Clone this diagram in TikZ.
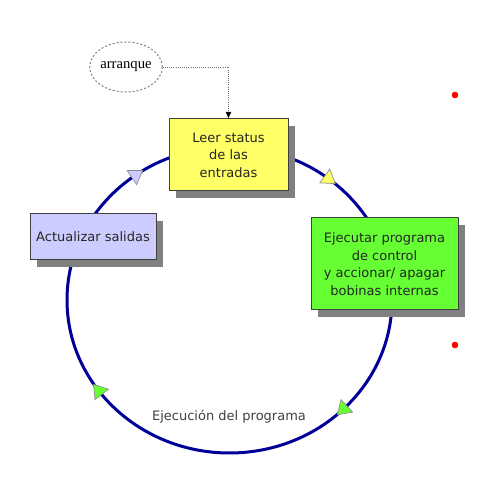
\documentclass[tikz,border=0pt]{standalone}
\usepackage{fontspec}
\setmainfont{DejaVu Sans}
\newfontfamily\startfont{Liberation Serif}
\usetikzlibrary{shapes.geometric, shadows, arrows.meta}
\definecolor{cyclecol}{HTML}{000099}
\definecolor{leercol}{HTML}{FFFF66}
\definecolor{ejecol}{HTML}{66FF33}
\definecolor{actcol}{HTML}{CCCCFF}
\tikzset{stepbox/.style={draw=black!75, line width=0.75pt, inner sep=0pt, align=center,
        font=\fontsize{9.75}{13.1}\selectfont, text=black!85,
        drop shadow={shadow xshift=5.25pt, shadow yshift=-5.25pt, fill=black!50, opacity=1}},
    flowtip/.style={draw=black!45, line width=0.5pt}}

\begin{document}
\begin{tikzpicture}[x=0.75pt, y=0.75pt]
                \useasboundingbox (0,0) rectangle (500,485);

                \coordinate (mid) at (229.5,185);
                \draw[cyclecol, line width=2.25pt] (mid) ellipse (162.5 and 153);

                \path (mid) ++(125.1:162.5 and 153) coordinate (tipact);
                \path (mid) ++(52.3:162.5 and 153) coordinate (tipleer);
                \path (mid) ++(-45.6:162.5 and 153) coordinate (tipeje);
                \path (mid) ++(-143.7:162.5 and 153) coordinate (tipprog);

                \filldraw[flowtip, fill=actcol, shift={(tipact)}, rotate=33.5] (8,0) -- (-5,8.5) -- (-5,-8.5) -- cycle;
                \filldraw[flowtip, fill=leercol, shift={(tipleer)}, rotate=-36.1] (8,0) -- (-5,8.5) -- (-5,-8.5) -- cycle;
                \filldraw[flowtip, fill=ejecol, shift={(tipeje)}, rotate=222.7] (8,0) -- (-5,8.5) -- (-5,-8.5) -- cycle;
                \filldraw[flowtip, fill=ejecol, shift={(tipprog)}, rotate=128] (8,0) -- (-5,8.5) -- (-5,-8.5) -- cycle;

                \node[stepbox, fill=leercol, minimum width=89.25pt, minimum height=54pt] (leer) at (228.5,330) {Leer status\\ de las\\ entradas};
                \node[stepbox, fill=ejecol, minimum width=110.25pt, minimum height=69pt] (ejecutar) at (384.5,221) {Ejecutar programa\\ de control\\ y accionar/ apagar\\ bobinas internas};
                \node[stepbox, fill=actcol, minimum width=94.5pt, minimum height=34.5pt] (actualizar) at (93,248) {Actualizar salidas};

                \node[ellipse, draw=black!50, dash pattern=on 1.5pt off 1.5pt, line width=0.75pt, minimum width=46.5pt, minimum height=37.5pt, inner sep=0pt,
                    font=\startfont\fontsize{11}{13}\selectfont] (arranque) at (126,418) {arranque};
                \draw[densely dotted, black!55, line width=0.6pt, -{Latex[black, length=5pt, width=4.5pt]}] (arranque.east) -| (leer.north);

                \node[text=black!75, font=\fontsize{9.75}{12}\selectfont] (ejecucion) at (229,68) {Ejecución del programa};

                \filldraw[red] (455,390) circle (2.25pt);
                \filldraw[red] (455,140) circle (2.25pt);

\end{tikzpicture}
\end{document}
